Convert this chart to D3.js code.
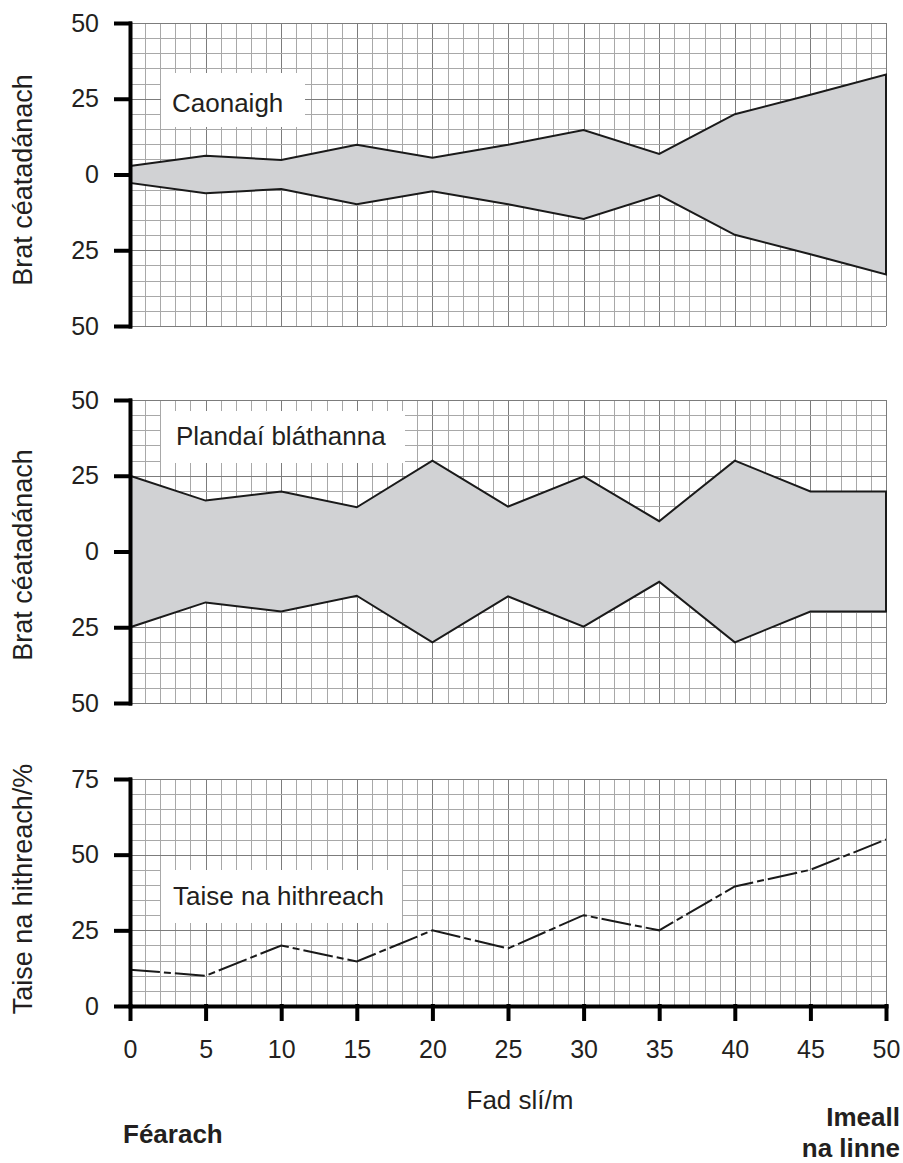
<!DOCTYPE html>
<html>
<head>
<meta charset="utf-8">
<script src="https://cdn.jsdelivr.net/npm/d3@7/dist/d3.min.js"></script>
<style>
  body { margin: 0; background: #fff; }
  svg { font-family: "Liberation Sans", Arial, sans-serif; }
  .grid line { stroke: #a8a8a8; stroke-width: 1; shape-rendering: crispEdges; }
  .grid .major line { stroke: #7c7c7c; }
  .grid path { display: none; }
  .axis path, .axis line { stroke: #000; stroke-width: 4; stroke-linecap: square; }
  .axis text { font-size: 25px; fill: #231f20; }
  .lbl { font-size: 26px; fill: #231f20; }
  .ttl { font-size: 27px; fill: #231f20; }
  .bold { font-weight: bold; }
</style>
</head>
<body>
<script>
// distance along the transect (m)
var distance = [0, 5, 10, 15, 20, 25, 30, 35, 40, 45, 50];
// kite half-widths (percentage cover / 2 drawn either side of 0)
var mossWidth   = [2.8, 6.2, 4.8, 9.8, 5.5, 9.8, 14.7, 6.8, 19.9, 26.3, 33];
var flowerWidth = [25, 16.8, 19.8, 14.6, 30, 14.8, 24.8, 10, 30, 19.8, 19.8];
// soil moisture (%)
var moisture    = [12, 10, 20, 14.7, 25, 19, 30, 25, 39.5, 45, 55];

var kiteTicks = [-50, -25, 0, 25, 50];
var moistTicks = [0, 25, 50, 75];
var xTicks = [0, 5, 10, 15, 20, 25, 30, 35, 40, 45, 50];

var W = 903, H = 1163;
var svg = d3.select('body').append('svg').attr('width', W).attr('height', H);

var x = d3.scaleLinear().domain([0, 50]).range([130, 886]);

function drawGrid(g, y, yMin, yMax) {
  var top = y(yMax), bottom = y(yMin);
  // vertical grid
  g.append('g').attr('class', 'grid')
    .attr('transform', 'translate(0,' + bottom + ')')
    .call(d3.axisBottom(x).tickValues(d3.range(0, 51, 1)).tickSize(-(bottom - top)).tickFormat(''))
    .selectAll('.tick').classed('major', function(d){ return d % 5 === 0; });
  // horizontal grid
  g.append('g').attr('class', 'grid')
    .attr('transform', 'translate(' + x(0) + ',0)')
    .call(d3.axisLeft(y).tickValues(d3.range(yMin, yMax + 1, 5)).tickSize(-(x(50) - x(0))).tickFormat(''))
    .selectAll('.tick').classed('major', function(d){ return d % 25 === 0; });
}

function drawBox(g, bx, by, bw, bh, label, tx, ty) {
  g.append('rect').attr('x', bx).attr('y', by).attr('width', bw).attr('height', bh).attr('fill', '#fff');
  g.append('text').attr('class', 'lbl').attr('x', tx).attr('y', ty).text(label);
}

function yTitle(label, cy) {
  svg.append('text').attr('class', 'ttl')
    .attr('text-anchor', 'middle')
    .attr('transform', 'translate(32,' + cy + ') rotate(-90)')
    .text(label);
}

// kite panels
function kitePanel(values, top, bottom, label, box) {
  var y = d3.scaleLinear().domain([-50, 50]).range([bottom, top]);
  var g = svg.append('g');
  drawGrid(g, y, -50, 50);
  drawBox(g, box[0], box[1], box[2], box[3], label, box[4], box[5]);

  var area = d3.area()
    .x(function(d, i){ return x(distance[i]); })
    .y0(function(d){ return y(-d); })
    .y1(function(d){ return y(d); });

  g.append('path').attr('d', area(values))
    .attr('fill', '#d1d2d4').attr('stroke', '#1a1a1a').attr('stroke-width', 2)
    .attr('stroke-linejoin', 'miter');

  g.append('g').attr('class', 'axis')
    .attr('transform', 'translate(' + x(0) + ',0)')
    .call(d3.axisLeft(y).tickValues(kiteTicks).tickSize(14).tickSizeOuter(0).tickPadding(17)
      .tickFormat(function(d){ return Math.abs(d); }));
  return y;
}

kitePanel(mossWidth, 23, 326, 'Caonaigh', [161, 73, 144, 54, 172, 112]);
kitePanel(flowerWidth, 400, 703, 'Plandaí bláthanna', [161, 411, 244, 52, 176, 445]);

// moisture panel
var y3 = d3.scaleLinear().domain([0, 75]).range([1006, 779]);
var g3 = svg.append('g');
drawGrid(g3, y3, 0, 75);
drawBox(g3, 161, 870, 241, 53, 'Taise na hithreach', 173, 905);

var line = d3.line()
  .x(function(d, i){ return x(distance[i]); })
  .y(function(d){ return y3(d); });

g3.append('path').attr('d', line(moisture))
  .attr('fill', 'none').attr('stroke', '#1a1a1a').attr('stroke-width', 2)
  .attr('stroke-dasharray', '30,4,7,4');

g3.append('g').attr('class', 'axis')
  .attr('transform', 'translate(' + x(0) + ',0)')
  .call(d3.axisLeft(y3).tickValues(moistTicks).tickSize(14).tickSizeOuter(0).tickPadding(17));

g3.append('g').attr('class', 'axis')
  .attr('transform', 'translate(0,' + y3(0) + ')')
  .call(d3.axisBottom(x).tickValues(xTicks).tickSize(13).tickSizeOuter(0).tickPadding(21));

// titles
yTitle('Brat céatadánach', 180);
yTitle('Brat céatadánach', 555);
yTitle('Taise na hithreach/%', 889);

svg.append('text').attr('class', 'lbl').attr('text-anchor', 'middle')
  .attr('x', 520).attr('y', 1109).text('Fad slí/m');
svg.append('text').attr('class', 'lbl bold').attr('x', 123).attr('y', 1143).text('Féarach');
svg.append('text').attr('class', 'lbl bold').attr('text-anchor', 'end')
  .attr('x', 900).attr('y', 1126).text('Imeall');
svg.append('text').attr('class', 'lbl bold').attr('text-anchor', 'end')
  .attr('x', 900).attr('y', 1157).text('na linne');
</script>
</body>
</html>
